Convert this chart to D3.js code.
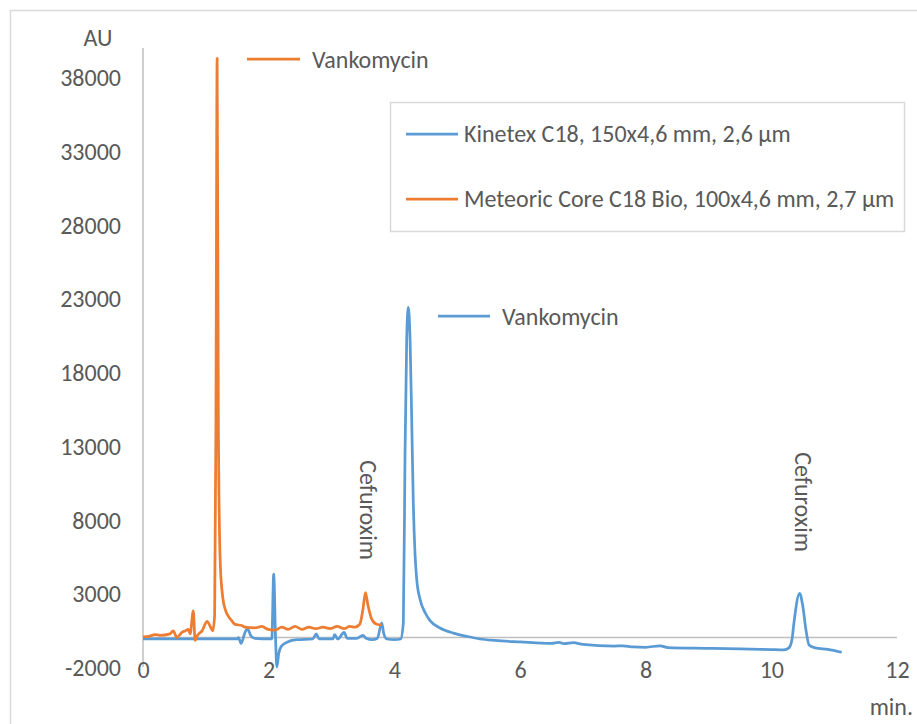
<!DOCTYPE html>
<html>
<head>
<meta charset="utf-8">
<script src="https://cdn.jsdelivr.net/npm/d3@7"></script>
<style>
  body { margin: 0; background: #fff; }
  text { font-family: Calibri, Carlito, Lato, "Liberation Sans", Arial, sans-serif; fill: #595959; }
</style>
</head>
<body>
<svg id="chart" width="917" height="724"></svg>
<script>
// chromatogram data, time in min, signal in AU
const kinetexTime = [0, 0.5, 1.0, 1.5, 1.52, 1.56, 1.62, 1.66, 1.72, 1.78, 2.0, 2.05, 2.08, 2.11, 2.13, 2.16, 2.2, 2.3, 2.45,
  2.7, 2.76, 2.8, 3.02, 3.05, 3.1, 3.2, 3.25, 3.4, 3.5, 3.55, 3.65, 3.73, 3.8, 3.83, 3.88, 4.0, 4.1,
  4.143, 4.17, 4.197, 4.222, 4.25, 4.277, 4.302, 4.329, 4.356, 4.409, 4.489, 4.568, 4.727, 4.939, 5.152, 5.364,
  5.6, 6.0, 6.5, 6.62, 6.7, 6.85, 7.0, 7.5, 7.64, 7.8, 8.0, 8.23, 8.35, 9.0, 9.5, 10.0, 10.2,
  10.28, 10.33, 10.36, 10.45, 10.5, 10.55, 10.6, 10.7, 10.9, 11.12];
const kinetexAU = [-100, -100, -100, -100, 0, -400, 300, 600, 100, -50, -100, -100, 4300, -100, -2000, -1100, -600, -300, -150,
  -100, 250, -100, -100, 200, -100, 350, -50, -50, 150, -50, -150, -50, 1000, 300, -100, -150, -100,
  1000, 12400, 20300, 22400, 20300, 14700, 9100, 5700, 3970, 2600, 1700, 1150, 650, 300, 80, -100,
  -200, -300, -400, -330, -420, -350, -470, -580, -560, -640, -660, -560, -680, -730, -770, -820, -840,
  -700, -100, 1000, 3000, 2150, 550, -500, -700, -800, -1000];

const meteoricTime = [0, 0.11, 0.19, 0.27, 0.43, 0.48, 0.54, 0.62, 0.67, 0.72, 0.75, 0.8, 0.83, 0.86, 0.94, 1.02, 1.07, 1.11,
  1.14, 1.16, 1.18, 1.2, 1.23, 1.27, 1.31, 1.35, 1.42, 1.46, 1.58, 1.62, 1.78, 1.89, 1.99, 2.1, 2.21, 2.31,
  2.42, 2.53, 2.64, 2.75, 2.86, 2.98, 3.09, 3.2, 3.29, 3.37, 3.45, 3.5, 3.54, 3.58, 3.64, 3.72, 3.8];
const meteoricAU = [50, 100, 200, 150, 250, 450, 0, 350, 450, 550, 250, 1800, -200, 100, 450, 1100, 750, 450,
  1500, 14000, 39300, 14000, 5000, 2700, 1900, 1500, 1100, 900, 800, 700, 650, 750, 550, 500, 700, 550,
  750, 550, 700, 600, 700, 600, 750, 600, 750, 700, 900, 1900, 3050, 2200, 1250, 900, 850];

const seriesNames = ["Kinetex C18, 150x4,6 mm, 2,6 µm", "Meteoric Core C18 Bio, 100x4,6 mm, 2,7 µm"];
const seriesColors = ["#5B9BD5", "#ED7D31"];
const yTicks = [-2000, 3000, 8000, 13000, 18000, 23000, 28000, 33000, 38000];
const xTicks = [0, 2, 4, 6, 8, 10, 12];

const fontSize = "24px";
const svg = d3.select("#chart");

// outer chart frame
svg.append("rect")
    .attr("x", 10.5)
    .attr("y", 10.5)
    .attr("width", 1000)
    .attr("height", 1000)
    .attr("fill", "none")
    .attr("stroke", "#d9d9d9")
    .attr("stroke-width", 1.5);

const x = d3.scaleLinear().domain([0, 12]).range([143, 897]);
const y = d3.scaleLinear().domain([-2000, 40000]).range([667, 48]);

// y axis (plain hyphen for negatives, like Excel)
const yAxis = svg.append("g").attr("transform", "translate(143,0)")
    .call(d3.axisLeft(y).tickValues(yTicks).tickSize(0).tickPadding(22).tickFormat(d => String(d)));
yAxis.select(".domain").attr("stroke", "#bfbfbf").attr("stroke-width", 1.5).attr("d", "M0,48V667");
yAxis.selectAll("text").style("font-size", fontSize).attr("fill", "#595959").attr("dy", "0.35em");

// x axis sits on zero, labels at the bottom
svg.append("line")
    .attr("x1", 143).attr("x2", 897)
    .attr("y1", y(0)).attr("y2", y(0))
    .attr("stroke", "#bfbfbf")
    .attr("stroke-width", 1.5);

const xAxis = svg.append("g").attr("transform", "translate(0,670)")
    .call(d3.axisBottom(x).tickValues(xTicks).tickSize(0).tickPadding(0));
xAxis.select(".domain").remove();
xAxis.selectAll("text").style("font-size", fontSize).attr("fill", "#595959").attr("y", 0).attr("dy", "0.35em");

// axis titles
svg.append("text").attr("x", 98).attr("y", 38).attr("dy", "0.35em")
    .attr("text-anchor", "middle").style("font-size", fontSize).text("AU");
svg.append("text").attr("x", 913).attr("y", 707).attr("dy", "0.35em")
    .attr("text-anchor", "end").style("font-size", fontSize).text("min.");

// series lines
const line = d3.line().x(d => x(d[0])).y(d => y(d[1])).curve(d3.curveMonotoneX);
const kinetex = kinetexTime.map((t, i) => [t, kinetexAU[i]]);
const meteoric = meteoricTime.map((t, i) => [t, meteoricAU[i]]);

svg.append("path")
    .datum(kinetex)
    .attr("d", line)
    .attr("fill", "none")
    .attr("stroke", seriesColors[0])
    .attr("stroke-width", 2.75)
    .attr("stroke-linejoin", "round");

svg.append("path")
    .datum(meteoric)
    .attr("d", line)
    .attr("fill", "none")
    .attr("stroke", seriesColors[1])
    .attr("stroke-width", 2.75)
    .attr("stroke-linejoin", "round");

// legend box
const legend = svg.append("g");
legend.append("rect")
    .attr("x", 390.5).attr("y", 102.5)
    .attr("width", 514).attr("height", 129)
    .attr("fill", "#fff")
    .attr("stroke", "#d9d9d9")
    .attr("stroke-width", 1.5);

seriesNames.forEach(function (name, i) {
    const ly = 134 + i * 65;
    legend.append("line")
        .attr("x1", 406).attr("x2", 458)
        .attr("y1", ly).attr("y2", ly)
        .attr("stroke", seriesColors[i])
        .attr("stroke-width", 2.75);
    legend.append("text")
        .attr("x", 464).attr("y", ly).attr("dy", "0.35em")
        .style("font-size", fontSize)
        .text(name);
});

// peak labels: "Vankomycin" with a legend style line
const vankoLabels = [{ x1: 247, x2: 300, y: 59, color: seriesColors[1] },
                     { x1: 438, x2: 490, y: 316, color: seriesColors[0] }];
vankoLabels.forEach(function (d) {
    svg.append("line")
        .attr("x1", d.x1).attr("x2", d.x2)
        .attr("y1", d.y).attr("y2", d.y)
        .attr("stroke", d.color)
        .attr("stroke-width", 2.75);
    svg.append("text")
        .attr("x", d.x2 + 12).attr("y", d.y + 1).attr("dy", "0.35em")
        .style("font-size", fontSize)
        .text("Vankomycin");
});

// rotated "Cefuroxim" labels
[[368, 510], [803, 502]].forEach(function (p) {
    svg.append("text")
        .attr("transform", "translate(" + p[0] + "," + p[1] + ") rotate(90)")
        .attr("text-anchor", "middle")
        .attr("dy", "0.35em")
        .style("font-size", fontSize)
        .text("Cefuroxim");
});
</script>
</body>
</html>
